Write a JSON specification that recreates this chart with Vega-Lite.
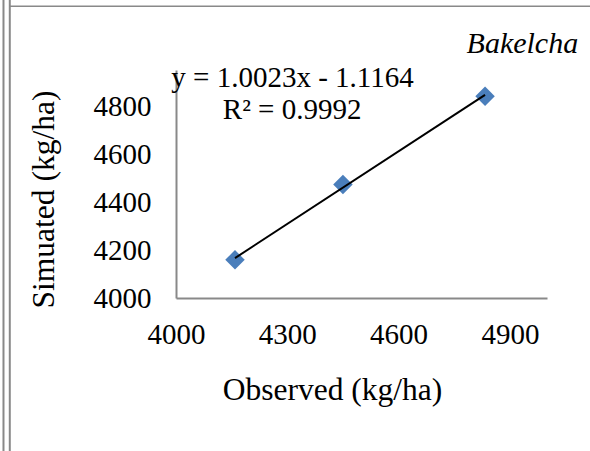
{
  "$schema": "https://vega.github.io/schema/vega-lite/v6.json",
  "width": 371,
  "height": 228,
  "autosize": {"type": "none"},
  "padding": {"left": 176, "top": 70, "right": 43, "bottom": 153},
  "background": "white",
  "config": {"view": {"stroke": null}, "font": "Liberation Serif"},
  "datasets": {
    "points": [
      {"obs": 4159, "sim": 4159},
      {"obs": 4450, "sim": 4473},
      {"obs": 4833, "sim": 4841}
    ],
    "notes": [
      {"label": "y = 1.0023x - 1.1164", "tx": 4314, "ty": 4879, "kind": "eq"},
      {"label": "R² = 0.9992", "tx": 4313, "ty": 4746, "kind": "eq"},
      {"label": "Bakelcha", "tx": 5084, "ty": 5021, "kind": "site"}
    ],
    "frameV": [
      {"fx": 3535, "fy": 3362, "fy2": 5242},
      {"fx": 3552, "fy": 3362, "fy2": 5242}
    ],
    "frameH": [
      {"fx": 3552, "fx2": 5116, "fy": 5216}
    ]
  },
  "layer": [
    {
      "data": {"name": "points"},
      "mark": {"type": "point", "shape": "diamond", "filled": true, "size": 380, "color": "#4A7EBB", "opacity": 1},
      "encoding": {
        "x": {
          "field": "obs", "type": "quantitative",
          "scale": {"domain": [4000, 5000], "nice": false, "zero": false},
          "axis": {
            "values": [4000, 4300, 4600, 4900], "format": "d", "ticks": false, "grid": false,
            "domainColor": "#898989", "domainWidth": 2,
            "labelFont": "Liberation Serif", "labelFontSize": 29, "labelColor": "black",
            "labelPadding": 22, "labelFlush": false, "labelOverlap": false,
            "title": "Observed (kg/ha)", "titleFont": "Liberation Serif", "titleFontSize": 31.5,
            "titleFontWeight": "normal", "titleColor": "black",
            "titleX": 156, "titleY": 101, "titleBaseline": "alphabetic", "titleAlign": "center"
          }
        },
        "y": {
          "field": "sim", "type": "quantitative",
          "scale": {"domain": [4000, 4950], "nice": false, "zero": false},
          "axis": {
            "values": [4000, 4200, 4400, 4600, 4800], "format": "d", "ticks": false, "grid": false,
            "domainColor": "#898989", "domainWidth": 2,
            "labelFont": "Liberation Serif", "labelFontSize": 29, "labelColor": "black",
            "labelPadding": 25, "labelFlush": false, "labelOverlap": false,
            "title": "Simuated (kg/ha)", "titleFont": "Liberation Serif", "titleFontSize": 31.5,
            "titleFontWeight": "normal", "titleColor": "black",
            "titleX": -123, "titleY": 129, "titleAngle": 270, "titleBaseline": "alphabetic", "titleAlign": "center"
          }
        }
      }
    },
    {
      "data": {"name": "points"},
      "transform": [{"regression": "sim", "on": "obs"}],
      "mark": {"type": "line", "color": "black", "strokeWidth": 2},
      "encoding": {
        "x": {"field": "obs", "type": "quantitative"},
        "y": {"field": "sim", "type": "quantitative"}
      }
    },
    {
      "data": {"name": "notes"},
      "transform": [{"filter": "datum.kind === 'eq'"}],
      "mark": {"type": "text", "font": "Liberation Serif", "fontSize": 29, "color": "black", "align": "center", "baseline": "alphabetic"},
      "encoding": {
        "x": {"field": "tx", "type": "quantitative"},
        "y": {"field": "ty", "type": "quantitative"},
        "text": {"field": "label"}
      }
    },
    {
      "data": {"name": "notes"},
      "transform": [{"filter": "datum.kind === 'site'"}],
      "mark": {"type": "text", "font": "Times New Roman, Liberation Serif, serif", "fontSize": 30, "fontStyle": "italic", "color": "black", "align": "right", "baseline": "alphabetic"},
      "encoding": {
        "x": {"field": "tx", "type": "quantitative"},
        "y": {"field": "ty", "type": "quantitative"},
        "text": {"field": "label"}
      }
    },
    {
      "data": {"name": "frameV"},
      "mark": {"type": "rule", "color": "#898989", "strokeWidth": 2},
      "encoding": {
        "x": {"field": "fx", "type": "quantitative"},
        "y": {"field": "fy", "type": "quantitative"},
        "y2": {"field": "fy2"}
      }
    },
    {
      "data": {"name": "frameH"},
      "mark": {"type": "rule", "color": "#898989", "strokeWidth": 1.5},
      "encoding": {
        "x": {"field": "fx", "type": "quantitative"},
        "x2": {"field": "fx2"},
        "y": {"field": "fy", "type": "quantitative"}
      }
    }
  ]
}
